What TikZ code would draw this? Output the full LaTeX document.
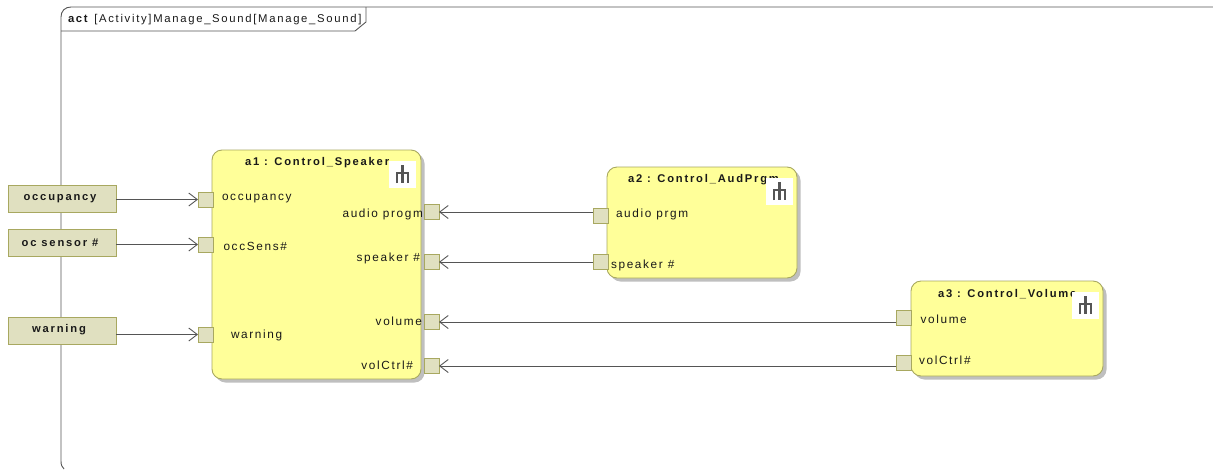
\documentclass[tikz,border=0pt]{standalone}
\usepackage{fontspec}
\setmainfont{Liberation Sans}[LetterSpace=14]
\newfontfamily\framefont{Liberation Sans}[LetterSpace=15]
\newfontfamily\titlefont{Liberation Sans}[LetterSpace=16]
\usetikzlibrary{arrows.meta,shadows}
\definecolor{blockfill}{HTML}{FFFF99}
\definecolor{blockline}{HTML}{A8A860}
\definecolor{pinfill}{HTML}{E0E0C0}
\definecolor{lineg}{HTML}{555555}
\tikzset{
  x=1pt,y=-1pt,
  every node/.style={inner sep=0pt,outer sep=0pt,font=\fontsize{11.8}{13}\selectfont,text=black!90},
  block/.style={draw=blockline,line width=0.9pt,fill=blockfill,rounded corners=10pt,
    drop shadow={shadow xshift=3.5pt,shadow yshift=-3.5pt,fill=black!25,opacity=1}},
  pin/.style={draw=blockline,line width=1pt,fill=pinfill,minimum width=15pt,minimum height=15pt},
  param/.style={draw=blockline,line width=1pt,fill=pinfill,minimum width=108pt,minimum height=27.5pt},
  title/.style={font=\fontsize{11.2}{13}\selectfont\titlefont\bfseries},
  lbl/.style={anchor=west},
  rakebox/.style={fill=white,minimum width=27pt,minimum height=27pt},
  flow/.style={draw=lineg,line width=0.9pt,-{Straight Barb[length=8.5pt,width=13pt,line width=0.9pt]}},
  rakeline/.style={draw=lineg,line width=2.2pt},
}
\newcommand{\rake}[1]{%
  \draw[rakeline] ([yshift=-4pt]#1.north) -- ([yshift=5pt]#1.south);
  \draw[rakeline] ([xshift=-5.5pt,yshift=5pt]#1.south) -- ([xshift=-5.5pt,yshift=-12pt]#1.north) -- ([xshift=5.5pt,yshift=-12pt]#1.north) -- ([xshift=5.5pt,yshift=5pt]#1.south);
}
\begin{document}
\begin{tikzpicture}
\useasboundingbox (0,0) rectangle (1213,469);
% frame
\draw[draw=lineg,line width=0.9pt] (1213,7) -- (71,7) .. controls (65,7) and (61,11) .. (61,17) -- (61,461) .. controls (61,465) and (62,467) .. (64,469);
\draw[draw=lineg,line width=0.9pt] (61,31) -- (355,31) -- (366,22) -- (366,7);
\node[lbl,font=\fontsize{11.3}{13}\selectfont\framefont] (frametitle) at (68,19.5) {\textbf{act} [Activity]Manage\_Sound[Manage\_Sound]};
% blocks
\node[block,minimum width=209pt,minimum height=229pt] (a1) at (316.5,264.5) {};
\node[block,minimum width=190pt,minimum height=111pt] (a2) at (702,222.5) {};
\node[block,minimum width=192pt,minimum height=95pt] (a3) at (1007,328.5) {};
\node[title,anchor=west] (a1t) at (245,163) {a1 : Control\_Speaker};
\node[title,anchor=west] (a2t) at (628,180) {a2 : Control\_AudPrgm};
\node[title,anchor=west] (a3t) at (938,294) {a3 : Control\_Volume};
% rakes
\node[rakebox] (r1) at (402.5,174.5) {};
\node[rakebox] (r2) at (779.5,191.5) {};
\node[rakebox] (r3) at (1085.5,305.5) {};
\rake{r1}\rake{r2}\rake{r3}
% parameters
\node[param] (poccup) at (62,199) {};
\node[param] (psens) at (62,243) {};
\node[param] (pwarn) at (62,331) {};
\node[title,anchor=center] (t1) at (60,198.5) {occupancy};
\node[title,anchor=center] (t2) at (60,242.5) {oc sensor \#};
\node[title,anchor=center] (t3) at (59,329.5) {warning};
% pins
\node[pin] (i1) at (205.5,199.5) {};
\node[pin] (i2) at (205.5,244.5) {};
\node[pin] (i3) at (205.5,334.5) {};
\node[pin] (o1) at (431.5,212) {};
\node[pin] (o2) at (431.5,262) {};
\node[pin] (o3) at (431.5,322) {};
\node[pin] (o4) at (431.5,366) {};
\node[pin] (b1) at (600.5,216) {};
\node[pin] (b2) at (600.5,262) {};
\node[pin] (c1) at (903.5,318) {};
\node[pin] (c2) at (903.5,363) {};
% labels
\node[lbl] (l1) at (222,199) {occupancy};
\node[lbl] (l2) at (223.5,246) {occSens\#};
\node[lbl] (l3) at (231,335) {warning};
\node[anchor=east] (l4) at (423,214) {audio progm};
\node[anchor=east] (l5) at (420,258) {speaker \#};
\node[anchor=east] (l6) at (422,321) {volume};
\node[anchor=east] (l7) at (413,365) {volCtrl\#};
\node[lbl] (l8) at (616,214) {audio prgm};
\node[lbl] (l9) at (611,265) {speaker \#};
\node[lbl] (l10) at (920.5,319) {volume};
\node[lbl] (l11) at (919,360) {volCtrl\#};
% connectors
\draw[flow] (poccup.east |- i1.west) -- (i1.west);
\draw[flow] (psens.east |- i2.west) -- (i2.west);
\draw[flow] (pwarn.east |- i3.west) -- (i3.west);
\draw[flow] (b1.west |- o1.east) -- (o1.east);
\draw[flow] (b2.west) -- (o2.east);
\draw[flow] (c1.west |- o3.east) -- (o3.east);
\draw[flow] (c2.west |- o4.east) -- (o4.east);
\end{tikzpicture}
\end{document}
